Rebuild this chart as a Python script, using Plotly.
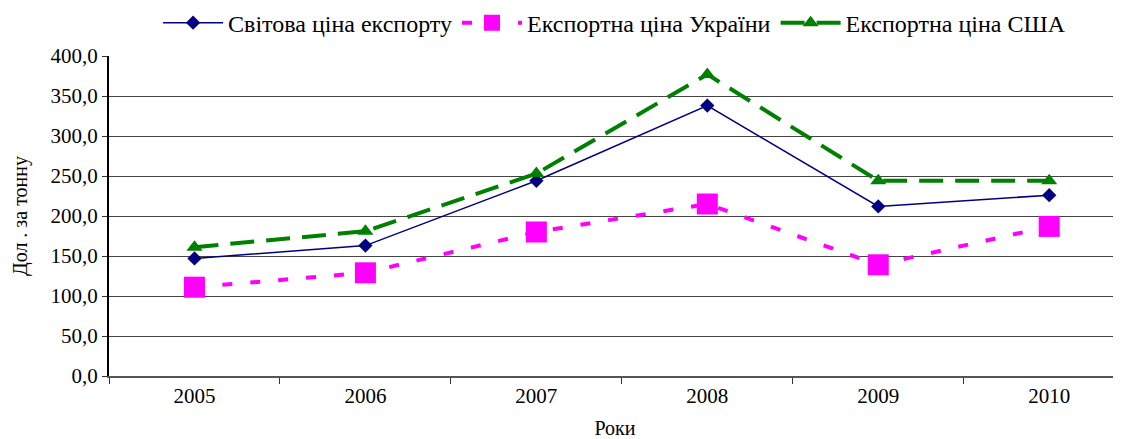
import plotly.graph_objects as go

years = ["2005", "2006", "2007", "2008", "2009", "2010"]
world_price = [147, 163, 244, 338, 212, 226]
ukraine_price = [111, 129, 180, 215, 139, 187]
usa_price = [161, 181, 253, 377, 244, 244]
y_ticks = [0, 50, 100, 150, 200, 250, 300, 350, 400]
y_tick_text = ["0,0", "50,0", "100,0", "150,0", "200,0", "250,0", "300,0", "350,0", "400,0"]

FONT = "Liberation Serif"

fig = go.Figure()
fig.add_trace(go.Scatter(
    x=years, y=world_price, name="Світова ціна експорту", mode="lines+markers",
    line=dict(color="#000080", width=1.5),
    marker=dict(symbol="diamond", size=11, color="#000080"),
))
fig.add_trace(go.Scatter(
    x=years, y=ukraine_price, name="Експортна ціна України", mode="lines+markers",
    line=dict(color="#FF00FF", width=4, dash="10px,18px"),
    marker=dict(symbol="square", size=21, color="#FF00FF"),
))
fig.add_trace(go.Scatter(
    x=years, y=usa_price, name="Експортна ціна США", mode="lines+markers",
    line=dict(color="#008000", width=4, dash="24px,12px"),
    marker=dict(symbol="triangle-up", size=14, color="#008000"),
))

fig.update_layout(
    template="none",
    width=1113, height=431,
    margin=dict(l=101, r=0, t=48, b=63),
    paper_bgcolor="white", plot_bgcolor="white",
    font=dict(family=FONT, size=21, color="black"),
    showlegend=True,
    legend=dict(orientation="h", xref="container", yref="container",
                x=0.545, xanchor="center", y=0.965, yanchor="middle",
                font=dict(family=FONT, size=24, color="black"), bgcolor="rgba(0,0,0,0)",
                tracegroupgap=0, itemwidth=60),
    xaxis=dict(
        type="category", range=[-0.5, 5.42], tickson="boundaries",
        ticks="outside", ticklen=6, tickcolor="#333", tickwidth=1,
        showline=True, linecolor="#555", linewidth=1.5, showgrid=False,
        tickfont=dict(family=FONT, size=21, color="black"),
        title=dict(text="Роки", font=dict(family=FONT, size=20, color="black"), standoff=20),
    ),
    yaxis=dict(
        range=[0, 400], tickvals=y_ticks, ticktext=y_tick_text,
        ticks="outside", ticklen=5, tickcolor="#333",
        showline=True, linecolor="black", linewidth=2,
        showgrid=True, gridcolor="#444", gridwidth=1, zeroline=False,
        tickfont=dict(family=FONT, size=21, color="black"),
    ),
    annotations=[dict(text="Дол . за тонну", xref="paper", yref="paper", x=0, y=0.5,
                      xanchor="center", yanchor="middle", xshift=-89, textangle=-90,
                      showarrow=False, font=dict(family=FONT, size=20, color="black"))],
    shapes=[dict(type="line", xref="paper", yref="y", x0=0.0138, x1=0.977, y0=400, y1=400,
                 line=dict(color="white", width=3), layer="below")],
)

fig.write_html("out.html")
